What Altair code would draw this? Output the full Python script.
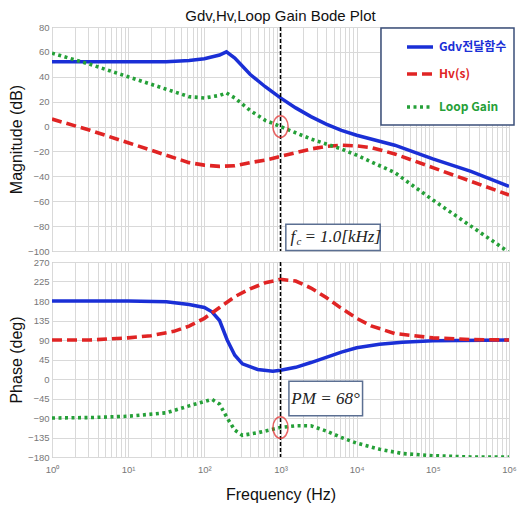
import altair as alt
import pandas as pd

# ---- data (x in log10(Hz)) ----
gdv_mag_logf = [0, 1.0, 1.5, 1.8, 2.0, 2.2, 2.29, 2.4, 2.6, 2.8, 3.0, 3.2, 3.4, 3.6, 3.8, 4.0, 4.5, 5.0, 5.5, 6.0]
gdv_mag = [52, 52, 52, 53, 54.5, 57.5, 60, 55, 42, 32, 23, 15, 8, 2, -3, -7, -15, -26, -36, -48]

hv_mag_logf = [0, 0.5, 1.0, 1.5, 1.8, 2.0, 2.2, 2.4, 2.6, 2.8, 3.0, 3.2, 3.4, 3.6, 3.8, 4.0, 4.2, 4.5, 5.0, 5.5, 6.0]
hv_mag = [6, -3, -13, -23, -29, -31, -32, -31.5, -29, -27, -24, -21, -18, -16, -15, -15.5, -17, -22, -33, -44, -55]

loop_mag_logf = [0, 0.5, 1.0, 1.5, 1.8, 2.0, 2.2, 2.29, 2.4, 2.6, 2.8, 3.0, 3.2, 3.4, 3.6, 3.8, 4.0, 4.5, 5.0, 5.5, 6.0]
loop_mag = [59, 50, 40, 30, 24, 23, 25, 27, 23, 13, 5, 0, -5, -10, -14, -18, -23, -37, -59, -80, -101]

gdv_ph_logf = [0, 1.0, 1.5, 1.8, 2.0, 2.1, 2.2, 2.3, 2.4, 2.5, 2.7, 2.9, 3.0, 3.2, 3.4, 3.6, 3.8, 4.0, 4.3, 4.6, 5.0, 6.0]
gdv_ph = [180, 180, 178, 172, 165, 155, 135, 90, 55, 35, 22, 18, 20, 27, 38, 50, 62, 72, 80, 85, 88, 90]

hv_ph_logf = [0, 0.5, 1.0, 1.3, 1.6, 1.8, 2.0, 2.2, 2.4, 2.6, 2.8, 3.0, 3.2, 3.4, 3.6, 3.8, 4.0, 4.2, 4.5, 5.0, 5.5, 6.0]
hv_ph = [90, 90, 95, 100, 110, 122, 140, 165, 190, 208, 222, 230, 226, 210, 188, 163, 140, 122, 105, 95, 91, 90]

loop_ph_logf = [0, 0.5, 1.0, 1.5, 1.8, 2.0, 2.1, 2.2, 2.3, 2.4, 2.5, 2.7, 2.9, 3.0, 3.2, 3.4, 3.6, 3.8, 4.0, 4.3, 4.6, 5.0, 5.5, 6.0]
loop_ph = [-90, -89, -86, -78, -62, -52, -47, -58, -90, -118, -130, -124, -116, -112, -108, -108, -120, -135, -148, -162, -172, -177, -180, -180]

series_names = ["Gdv전달함수", "Hv(s)", "Loop Gain"]
series_colors = ["#1a2fd6", "#e02424", "#25a038"]

crossover_hz = [1000]
crossover_mag = [0]
crossover_phase = [-112]

fc_parts = ["f", "c", "= 1.0[kHz]"]
pm_label = "PM = 68°"
mag_ticks = [-100, -80, -60, -40, -20, 0, 20, 40, 60, 80]
phase_ticks = [-180, -135, -90, -45, 0, 45, 90, 135, 180, 225, 270]
decades = [1, 10, 100, 1000, 10000, 100000, 1000000]
sup = {1: "10⁰", 10: "10¹", 100: "10²", 1000: "10³", 10000: "10⁴", 100000: "10⁵", 1000000: "10⁶"}

grid_vals = [m * d for d in decades[:-1] for m in range(1, 10)] + [1000000]


def df(logf, vals):
    return pd.DataFrame({"f": [10 ** v for v in logf], "v": vals})


label_expr = " : ".join([f"datum.value == {k} ? '{s}'" for k, s in sup.items()]) + " : ''"

W = 457
grid_color = "#d9d9d9"
label_color = "#777777"
sans = "Liberation Sans"
serif = "Liberation Serif"
xscale = alt.Scale(type="log", domain=[1, 1000000], nice=False)
ellipse = "M-0.7,0 A0.7,1 0 1,0 0.7,0 A0.7,1 0 1,0 -0.7,0 Z"


def xaxis(show):
    if show:
        return alt.Axis(values=grid_vals, labelExpr=label_expr, title="Frequency  (Hz)",
                        titleFontSize=16, titleFont=sans, titleFontWeight="normal", titleColor="#111111",
                        labelFontSize=9.5, labelColor=label_color, ticks=False, domain=False,
                        gridColor=grid_color, labelPadding=7, titlePadding=13, labelFlush=False,
                        labelOverlap=False)
    return alt.Axis(values=grid_vals, labels=False, ticks=False, domain=False, title=None,
                    gridColor=grid_color)


def yaxis(title, ticks):
    return alt.Axis(values=ticks, title=title, titleFontSize=16, titleFont=sans, titleColor="#111111",
                    titleFontWeight="normal", labelFontSize=9.5, labelColor=label_color,
                    ticks=False, domain=False, gridColor=grid_color, labelOverlap=False,
                    labelPadding=3, titlePadding=3)


styles = [
    dict(strokeWidth=3.5),
    dict(strokeWidth=3.6, strokeDash=[10, 5]),
    dict(strokeWidth=3.6, strokeDash=[3, 3.5]),
]


def panel(datasets, title, ticks, dom, show_x, cross_y, box, texts, height):
    xa = xaxis(show_x)
    ya = yaxis(title, ticks)
    ys = alt.Scale(domain=dom, nice=False, zero=False)
    X = lambda fld: alt.X(fld, scale=xscale, axis=xa)
    Y = lambda fld: alt.Y(fld, scale=ys, axis=ya)
    layers = []
    for (d, name, col, st) in zip(datasets, series_names, series_colors, styles):
        layers.append(alt.Chart(d).mark_line(color=col, clip=True, **st).encode(
            x=X("f:Q"), y=Y("v:Q")))
    vdf = pd.DataFrame({"f": crossover_hz})
    layers.append(alt.Chart(vdf).mark_rule(color="black", strokeDash=[4, 2], strokeWidth=1.5).encode(
        x=X("f:Q")))
    cdf = pd.DataFrame({"f": crossover_hz, "v": [cross_y]})
    layers.append(alt.Chart(cdf).mark_point(shape=ellipse, filled=False, color="#e02424",
                                            size=470, strokeWidth=1.5).encode(x=X("f:Q"), y=Y("v:Q")))
    bdf = pd.DataFrame([box])
    layers.append(alt.Chart(bdf).mark_rect(fill="white", stroke="#5b6f92", strokeWidth=1.5).encode(
        x=X("f1:Q"), x2="f2:Q", y=Y("v1:Q"), y2="v2:Q"))
    for (txt, size, dx, dy, align) in texts:
        tdf = pd.DataFrame({"f": [box["fc"]], "v": [box["vc"]], "t": [txt]})
        layers.append(alt.Chart(tdf).mark_text(font=serif, fontStyle="italic", fontSize=size,
                                               color="#222222", dx=dx, dy=dy, align=align).encode(
            x=X("f:Q"), y=Y("v:Q"), text="t:N"))
    return alt.layer(*layers).properties(width=W, height=height)


top = panel([df(gdv_mag_logf, gdv_mag), df(hv_mag_logf, hv_mag), df(loop_mag_logf, loop_mag)],
            "Magnitude (dB)", mag_ticks, [-100, 80], False, crossover_mag[0],
            dict(f1=1175, f2=20400, v1=-78.5, v2=-99.5, fc=4800, vc=-89),
            [(fc_parts[0], 17, -42, 0, "left"), (fc_parts[1], 11, -36, 5, "left"),
             (fc_parts[2], 17, -28, 0, "left")], 224)

# manual legend (pixel positions inside the top panel)
leg_y = [20, 47, 80]
leg = [alt.Chart(pd.DataFrame({"a": [0]})).mark_rect(fill="white", stroke="#3b4f7a", strokeWidth=1.5).encode(
    x=alt.value(329), x2=alt.value(462), y=alt.value(1), y2=alt.value(98))]
for name, col, st, yy in zip(series_names, series_colors, styles, leg_y):
    sw = dict(st)
    leg.append(alt.Chart(pd.DataFrame({"a": [0]})).mark_rule(color=col, **sw).encode(
        x=alt.value(355), x2=alt.value(381), y=alt.value(yy)))
    leg.append(alt.Chart(pd.DataFrame({"t": [name]})).mark_text(
        align="left", baseline="middle", font="Noto Sans CJK KR", fontSize=12, fontWeight="bold",
        color=col).encode(x=alt.value(387), y=alt.value(yy), text="t:N"))
top = alt.layer(top, *leg).properties(title=alt.TitleParams(
    "Gdv,Hv,Loop Gain Bode Plot", fontSize=15, font=sans, fontWeight="normal", offset=-2, color="#111111"))

bottom = panel([df(gdv_ph_logf, gdv_ph), df(hv_ph_logf, hv_ph), df(loop_ph_logf, loop_ph)],
               "Phase (deg)", phase_ticks, [-180, 270], True, crossover_phase[0],
               dict(f1=1290, f2=11950, v1=-5, v2=-85, fc=3900, vc=-45),
               [(pm_label, 17, 0, 0, "center")], 195)

chart = alt.vconcat(top, bottom, spacing=0).properties(
    padding={"left": 0, "right": 0, "top": 0, "bottom": 0}).configure_view(
    stroke="#aaaaaa", strokeWidth=1).configure_title(anchor="middle")

chart.save("out.html", embed_options={"renderer": "svg", "actions": False})
